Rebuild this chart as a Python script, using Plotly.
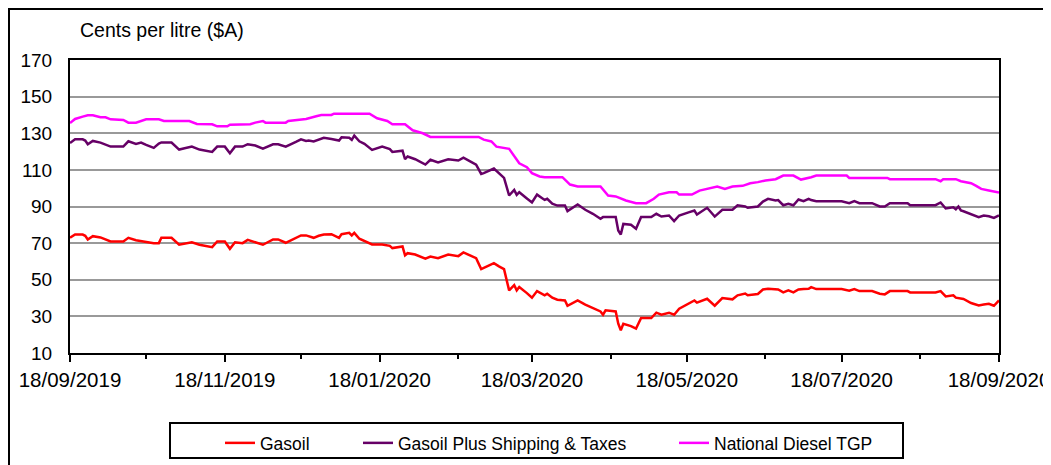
import plotly.graph_objects as go

# ---- data ----
dates_gp = [
    "2019-09-18", "2019-09-20", "2019-09-23", "2019-09-24", "2019-09-25", "2019-09-27", "2019-09-30", "2019-10-02", "2019-10-04", "2019-10-09",
    "2019-10-11", "2019-10-14", "2019-10-16", "2019-10-18", "2019-10-21", "2019-10-23", "2019-10-24", "2019-10-28", "2019-10-31", "2019-11-05",
    "2019-11-08", "2019-11-13", "2019-11-15", "2019-11-18", "2019-11-20", "2019-11-22", "2019-11-25", "2019-11-27", "2019-11-30", "2019-12-03",
    "2019-12-07", "2019-12-09", "2019-12-12", "2019-12-16", "2019-12-18", "2019-12-20",
    "2019-12-21", "2019-12-23", "2019-12-25", "2019-12-27", "2019-12-30", "2020-01-02", "2020-01-03", "2020-01-06", "2020-01-07", "2020-01-08",
    "2020-01-10", "2020-01-12", "2020-01-15", "2020-01-19", "2020-01-22", "2020-01-23", "2020-01-27", "2020-01-28", "2020-01-29", "2020-02-01",
    "2020-02-05", "2020-02-07", "2020-02-10", "2020-02-14", "2020-02-18", "2020-02-20", "2020-02-23", "2020-02-25", "2020-02-27", "2020-02-28",
    "2020-03-03", "2020-03-05", "2020-03-07", "2020-03-09", "2020-03-11", "2020-03-12", "2020-03-13", "2020-03-16", "2020-03-18", "2020-03-20",
    "2020-03-21",
    "2020-03-23", "2020-03-24", "2020-03-26", "2020-03-28", "2020-03-31", "2020-04-01", "2020-04-05", "2020-04-08", "2020-04-11", "2020-04-14",
    "2020-04-15", "2020-04-16", "2020-04-20", "2020-04-21", "2020-04-22", "2020-04-23", "2020-04-26", "2020-04-28", "2020-04-30", "2020-05-04",
    "2020-05-06", "2020-05-08", "2020-05-11", "2020-05-13", "2020-05-15", "2020-05-19", "2020-05-21", "2020-05-22", "2020-05-26", "2020-05-29",
    "2020-06-01", "2020-06-05", "2020-06-07", "2020-06-10", "2020-06-11", "2020-06-15", "2020-06-17", "2020-06-19", "2020-06-22",
    "2020-06-23", "2020-06-25", "2020-06-27", "2020-06-29", "2020-07-01", "2020-07-03", "2020-07-05", "2020-07-06", "2020-07-08", "2020-07-18",
    "2020-07-21", "2020-07-23", "2020-07-25", "2020-07-30", "2020-08-02", "2020-08-04", "2020-08-06", "2020-08-13", "2020-08-14", "2020-08-24",
    "2020-08-26", "2020-08-28", "2020-08-31", "2020-09-01", "2020-09-02", "2020-09-03", "2020-09-04", "2020-09-07", "2020-09-10", "2020-09-12",
    "2020-09-14", "2020-09-16", "2020-09-18",
]

gasoil = [
    72.9, 74.7, 74.7, 74.0, 72.0, 73.8, 73.1, 72.0, 70.9, 70.9, 72.9, 71.6, 71.1, 70.5, 70.0, 70.0, 72.9, 72.9,
    69.1, 70.5, 69.1, 67.8, 70.9, 70.9, 66.9, 70.5, 70.0, 71.8, 70.5, 69.1, 72.0, 72.0, 70.2, 72.9, 74.2, 74.2,
    73.8, 72.9, 74.0, 74.7, 74.9, 72.9, 74.9, 75.6, 74.2, 75.6, 72.4, 71.1, 69.3, 69.3, 68.5, 67.3, 68.2, 63.3,
    64.5, 63.8, 61.5, 62.7, 61.8, 63.8, 62.9, 64.9, 62.9, 61.8, 55.8, 56.4, 59.1, 57.3, 55.8, 44.2, 47.1, 44.2,
    46.0, 42.7, 40.2, 43.8, 43.1,
    41.5, 42.4, 40.2, 39.1, 38.7, 35.8, 38.7, 36.4, 34.5, 32.7, 30.9, 33.3, 32.7, 26.0, 22.4, 26.0, 24.7, 23.3,
    29.1, 29.1, 32.0, 30.9, 32.0, 30.9, 34.2, 37.5, 38.7, 37.5, 39.6, 35.8, 40.0, 39.3, 41.5, 42.5, 41.5, 42.2,
    44.7, 45.1, 45.1,
    44.7, 43.1, 44.2, 43.1, 44.7, 45.0, 45.1, 46.0, 44.9, 44.9, 44.0, 44.9, 43.8, 43.8, 42.4, 42.0, 43.8, 43.8,
    43.1, 43.1, 43.8, 40.9, 41.5, 40.2, 40.0, 39.8, 39.5, 37.3, 36.0, 36.5, 36.9, 35.8, 38.7,
]

gasoil_plus = [
    124.7, 126.7, 126.7, 126.0, 124.0, 125.8, 124.9, 124.0, 122.7, 122.7, 125.6, 124.2, 124.9, 123.6, 122.0, 124.4, 125.0, 124.9,
    121.1, 122.7, 121.1, 119.8, 122.7, 122.7, 119.1, 122.7, 122.7, 124.0, 123.3, 121.6, 124.0, 124.0, 122.7, 125.3, 126.7, 125.8,
    126.0, 125.5, 126.5, 127.5, 126.9, 126.0, 127.8, 127.5, 126.4, 128.7, 125.6, 124.2, 120.9, 122.7, 121.3, 119.8, 120.5, 115.8,
    117.3, 115.8, 112.9, 115.5, 114.0, 115.8, 115.1, 116.7, 114.4, 112.9, 107.8, 108.2, 110.7, 108.2, 105.6, 96.0, 99.1, 96.4,
    97.8, 94.4, 92.2, 96.5, 95.5,
    93.6, 94.2, 91.5, 90.5, 90.5, 87.5, 91.1, 88.2, 86.0, 83.3, 84.2, 84.2, 84.2, 76.9, 74.7, 80.5, 80.0, 77.8,
    84.2, 84.2, 86.0, 84.5, 85.1, 82.0, 85.1, 86.9, 87.8, 85.6, 89.3, 84.5, 88.2, 88.2, 90.7, 90.0, 89.3, 90.0,
    92.7, 94.2, 93.3,
    93.5, 90.7, 91.5, 90.7, 93.8, 92.9, 94.2, 93.5, 92.9, 92.9, 91.8, 92.9, 91.8, 91.8, 90.0, 90.0, 91.8, 91.8,
    90.7, 90.7, 92.2, 88.9, 89.6, 88.5, 90.0, 87.8, 87.4, 85.6, 84.2, 85.1, 84.7, 83.8, 85.1,
]

dates_tgp = [
    "2019-09-18", "2019-09-20", "2019-09-23", "2019-09-25", "2019-09-27", "2019-09-30", "2019-10-02", "2019-10-04", "2019-10-09", "2019-10-11",
    "2019-10-14", "2019-10-16", "2019-10-18", "2019-10-23", "2019-10-25", "2019-11-04", "2019-11-07", "2019-11-13", "2019-11-15", "2019-11-19",
    "2019-11-20", "2019-11-28", "2019-11-30", "2019-12-03", "2019-12-04", "2019-12-07", "2019-12-12", "2019-12-13", "2019-12-18", "2019-12-20",
    "2019-12-24", "2019-12-26", "2019-12-30", "2019-12-31", "2020-01-14", "2020-01-17", "2020-01-21", "2020-01-23", "2020-01-28", "2020-01-31",
    "2020-02-04", "2020-02-07", "2020-02-13", "2020-02-26", "2020-02-28", "2020-03-02", "2020-03-04", "2020-03-07", "2020-03-09", "2020-03-13",
    "2020-03-16", "2020-03-18", "2020-03-21", "2020-03-23", "2020-03-30", "2020-04-02", "2020-04-05", "2020-04-14", "2020-04-17", "2020-04-20",
    "2020-04-24", "2020-04-28", "2020-05-02", "2020-05-05", "2020-05-07", "2020-05-11", "2020-05-14", "2020-05-15", "2020-05-20", "2020-05-23",
    "2020-05-26", "2020-05-30", "2020-06-02", "2020-06-05", "2020-06-09", "2020-06-12", "2020-06-15", "2020-06-18", "2020-06-22", "2020-06-23",
    "2020-06-25", "2020-06-29", "2020-07-02", "2020-07-06", "2020-07-08", "2020-07-20", "2020-07-21", "2020-08-05", "2020-08-06", "2020-08-24",
    "2020-08-26", "2020-08-27", "2020-09-01", "2020-09-03", "2020-09-07", "2020-09-09", "2020-09-11", "2020-09-14", "2020-09-18",
]

national_tgp = [
    135.6, 137.8, 139.1, 139.8, 139.8, 138.7, 138.7, 137.6, 137.3, 135.8,
    135.8, 136.7, 137.6, 137.6, 136.7, 136.7, 135.1, 134.9, 133.8, 133.8,
    134.7, 134.9, 135.8, 136.7, 135.8, 135.8, 135.8, 136.7, 137.3, 137.8,
    139.3, 140.0, 140.0, 140.7, 140.7, 138.2, 136.7, 134.9, 134.9, 131.6,
    130.0, 128.0, 128.0, 128.0, 126.5, 125.5, 122.7, 121.8, 121.5, 113.6,
    111.5, 108.2, 106.4, 106.0, 106.0, 102.0, 100.9, 100.9, 96.0, 95.5,
    93.3, 91.8, 91.8, 94.2, 96.5, 97.8, 97.8, 96.5, 96.5, 98.7,
    99.6, 100.9, 99.6, 100.9, 101.3, 102.7, 103.3, 104.2, 104.9, 105.6,
    106.9, 106.9, 104.7, 106.0, 106.9, 106.9, 105.6, 105.6, 104.9, 104.9,
    103.8, 104.9, 104.9, 103.8, 102.7, 101.3, 99.6, 98.7, 97.6,
]

series_names = ["Gasoil", "Gasoil Plus Shipping & Taxes", "National Diesel TGP"]
series_colors = ["#FF0000", "#660066", "#FF00FF"]
legend_widths = [93, 271, 160]

FONT = "Liberation Sans, Arial, sans-serif"

# The page body adds an 8px offset; the plot area is placed at page x 70-999, y 60-353.
W, H = 1043, 457
ML, MR, MT, MB = 62, 52, 52, 112
PW, PH = W - ML - MR, H - MT - MB  # 929 x 293


def px(xpage):
    return (xpage - 8 - ML) / PW


def py(ypage):
    return (H - MB - (ypage - 8)) / PH


fig = go.Figure()
for name, xs, ys, col, lw in [
    (series_names[0], dates_gp, gasoil, series_colors[0], legend_widths[0]),
    (series_names[1], dates_gp, gasoil_plus, series_colors[1], legend_widths[1]),
    (series_names[2], dates_tgp, national_tgp, series_colors[2], legend_widths[2]),
]:
    fig.add_trace(go.Scatter(x=xs, y=ys, mode="lines", name=name, legendwidth=lw,
                             line=dict(color=col, width=2.5)))

fig.update_layout(
    width=W, height=H,
    margin=dict(l=ML, r=MR, t=MT, b=MB, autoexpand=False),
    paper_bgcolor="white", plot_bgcolor="white",
    font=dict(family=FONT, size=19, color="black"),
    showlegend=True,
    legend=dict(orientation="h", x=px(220), xanchor="left", y=py(425), yanchor="top",
                borderwidth=0, bgcolor="rgba(0,0,0,0)",
                font=dict(family=FONT, size=17.5, color="black")),
    xaxis=dict(type="date", range=["2019-09-18", "2020-09-18"], automargin=False,
               tick0="2019-09-18", dtick="M2", tickformat="%d/%m/%Y",
               ticks="outside", ticklen=7, tickwidth=2, tickcolor="black",
               showline=True, linecolor="black", linewidth=2, mirror=True,
               showgrid=False, zeroline=False,
               tickfont=dict(family=FONT, size=20.5, color="black"),
               minor=dict(tick0="2019-09-18", dtick="M1", ticks="outside", ticklen=4,
                          tickwidth=2, tickcolor="black", showgrid=False)),
    yaxis=dict(range=[10, 170], tick0=10, dtick=20, automargin=False,
               showgrid=True, gridcolor="#999999", gridwidth=2,
               showline=True, linecolor="black", linewidth=2, mirror=True,
               ticks="", zeroline=False, ticklabelstandoff=12,
               tickfont=dict(family=FONT, size=19, color="black")),
)

# outer chart frame (extends beyond the visible page on the right and bottom)
fig.add_shape(type="rect", xref="paper", yref="paper", x0=px(9), x1=1.2, y0=-0.6, y1=py(9),
              line=dict(color="black", width=2), fillcolor="rgba(0,0,0,0)", layer="below")
# legend frame
fig.add_shape(type="rect", xref="paper", yref="paper",
              x0=px(170), x1=px(903), y0=py(458), y1=py(423),
              line=dict(color="black", width=2), fillcolor="white", layer="below")

fig.add_annotation(text="Cents per litre ($A)", xref="paper", yref="paper",
                   x=px(78), y=py(30), xanchor="left", yanchor="middle", showarrow=False,
                   font=dict(family=FONT, size=19.5, color="black"))

fig.write_html("out.html")
